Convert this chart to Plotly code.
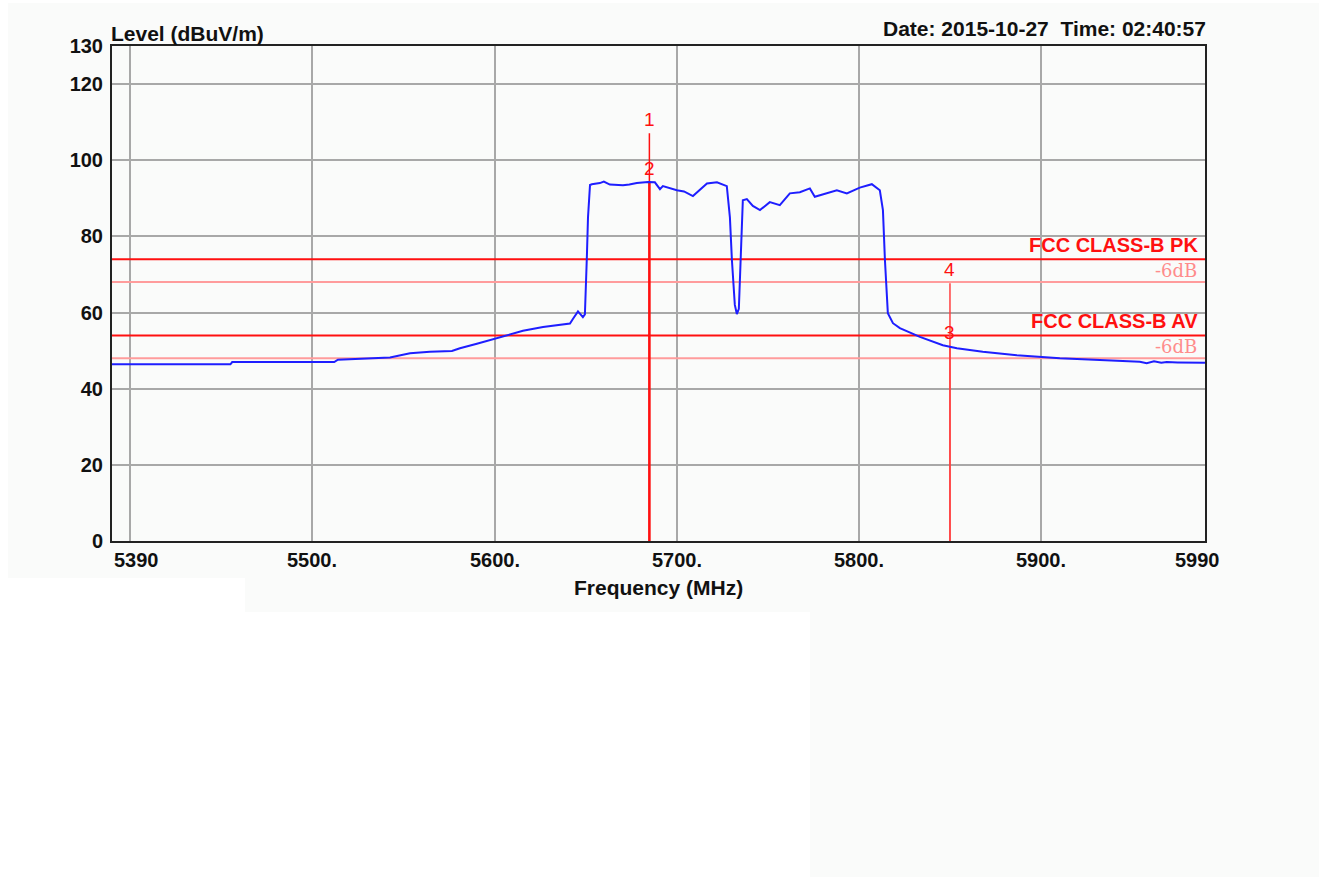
import plotly.graph_objects as go

# ---- measured spectrum (frequency in MHz, level in dBuV/m) ----
freq_mhz = [
    5390, 5420, 5455, 5456, 5490, 5512, 5514, 5531.6, 5542.6, 5553.6, 5564.5,
    5576.6, 5581, 5590.3, 5599.1, 5608.4, 5615.6, 5626.6, 5641.4, 5643, 5645.8,
    5648.5, 5649.6, 5650.7, 5651.3, 5652.4, 5653.4, 5657.8, 5660, 5663.3,
    5670.5, 5674, 5678.1, 5684.2, 5688, 5690.8, 5692.4, 5700.1, 5704,
    5708.9, 5716.6, 5722.1, 5727.5, 5729.2, 5730.3, 5731.9, 5733, 5734.1,
    5735.2, 5736.3, 5738.5, 5741.8, 5745.7, 5751.1, 5756.6, 5762.1, 5767.6,
    5773.1, 5775.8, 5782.4, 5787.9, 5793.4, 5800.5, 5807.1, 5811.5, 5813.2,
    5814.3, 5815.9, 5818.7, 5822.5, 5828, 5833.5, 5846.1, 5853.8, 5868,
    5886.7, 5910.3, 5932.3, 5950, 5954.2, 5958, 5962, 5966, 5969, 5975, 5990,
]
level_dbuv = [
    46.4, 46.4, 46.4, 47.0, 47.0, 47.0, 47.6, 47.9, 48.2, 49.3, 49.7,
    49.9, 50.6, 51.8, 53.0, 54.3, 55.2, 56.2, 57.1, 58.3, 60.3,
    58.8, 59.5, 75.0, 85.0, 93.5, 93.7, 94.0, 94.4, 93.6,
    93.4, 93.6, 94.0, 94.3, 94.2, 92.4, 93.2, 92.1, 91.8,
    90.6, 93.9, 94.2, 93.2, 85.0, 73.8, 62.0, 59.6, 61.0,
    75.0, 89.5, 89.8, 88.0, 86.9, 89.0, 88.2, 91.3, 91.6,
    92.6, 90.4, 91.4, 92.1, 91.3, 92.8, 93.7, 92.1, 86.9,
    73.8, 59.8, 57.2, 55.9, 54.8, 53.6, 51.4, 50.6, 49.7,
    48.8, 48.0, 47.5, 47.2, 47.1, 46.7, 47.2, 46.8, 47.0, 46.9, 46.8,
]

# ---- limit lines ----
limit_names = ["FCC CLASS-B PK", "FCC CLASS-B AV"]
limit_levels = [74, 54]
limit_margin_db = 6

# ---- markers ----
marker_ids = ["1", "2", "3", "4"]
marker_freqs = [5685, 5685, 5850, 5850]
marker_levels = [107.1, 94.4, 51.2, 67.7]

x_tick_vals = [5390, 5500, 5600, 5700, 5800, 5900, 5990]
x_tick_text = ["5390", "5500.", "5600.", "5700.", "5800.", "5900.", "5990"]
x_grid_vals = [5400, 5500, 5600, 5700, 5800, 5900]
y_tick_vals = [0, 20, 40, 60, 80, 100, 120, 130]

X0, X1 = 5390, 5990
FONT = "Liberation Sans, Arial, sans-serif"
RED = "#ff1010"
PINK = "#ff9c9c"

fig = go.Figure()

# limit lines and their -6 dB margin lines
for lvl in limit_levels:
    fig.add_trace(go.Scatter(x=[X0, X1], y=[lvl, lvl], mode="lines",
                             line=dict(color=RED, width=2), hoverinfo="skip"))
    m = lvl - limit_margin_db
    fig.add_trace(go.Scatter(x=[X0, X1], y=[m, m], mode="lines",
                             line=dict(color=PINK, width=2), hoverinfo="skip"))

# marker lines
marker_styles = [(RED, 1.5), (RED, 2.5), ("#ff4040", 1.5), ("#ff4040", 1.5)]
for f, lvl, (col, w) in zip(marker_freqs, marker_levels, marker_styles):
    fig.add_trace(go.Scatter(x=[f, f], y=[0, lvl], mode="lines",
                             line=dict(color=col, width=w), hoverinfo="skip"))

# spectrum trace
fig.add_trace(go.Scatter(x=freq_mhz, y=level_dbuv, mode="lines",
                         line=dict(color="#1e1eff", width=2), hoverinfo="skip"))

# marker labels
for mid, f, lvl in zip(marker_ids, marker_freqs, marker_levels):
    fig.add_annotation(x=f, y=lvl, xref="x", yref="y", text=mid, showarrow=False,
                       yanchor="bottom", yshift=1,
                       font=dict(family=FONT, size=19, color=RED))

# limit labels: name above the line, margin text just below it
for name, lvl in zip(limit_names, limit_levels):
    fig.add_annotation(x=1, y=lvl, xref="paper", yref="y", text=name,
                       showarrow=False, xanchor="right", yanchor="bottom",
                       xshift=-5, yshift=1,
                       font=dict(family=FONT, size=20, color=RED, weight="bold"))
    fig.add_annotation(x=1, y=lvl, xref="paper", yref="y",
                       text=f"-{limit_margin_db}dB",
                       showarrow=False, xanchor="right", yanchor="top",
                       xshift=-6, yshift=1,
                       font=dict(family="DejaVu Serif, serif", size=18,
                                 color="#ff8c8c"))

# x tick labels
for v, t in zip(x_tick_vals, x_tick_text):
    anchor, shift = "center", 0
    if v == X0:
        anchor = "left"
    elif v == X1:
        shift = -8
    fig.add_annotation(x=v, y=0, xref="x", yref="paper", text=t, showarrow=False,
                       xanchor=anchor, yanchor="top", xshift=shift, yshift=-6,
                       font=dict(family=FONT, size=20, color="#111111",
                                 weight="bold"))

# titles
fig.add_annotation(x=0.5, y=0, xref="paper", yref="paper", text="Frequency (MHz)",
                   showarrow=False, xanchor="center", yanchor="top", yshift=-33,
                   font=dict(family=FONT, size=21, color="#111111", weight="bold"))
fig.add_annotation(x=0, y=1, xref="paper", yref="paper", text="Level (dBuV/m)",
                   showarrow=False, xanchor="left", yanchor="bottom", yshift=-1,
                   xshift=-3,
                   font=dict(family=FONT, size=21, color="#111111", weight="bold"))
fig.add_annotation(x=1, y=1, xref="paper", yref="paper",
                   text="Date: 2015-10-27\u00a0\u00a0Time: 02:40:57",
                   showarrow=False, xanchor="right", yanchor="bottom", yshift=4,
                   xshift=3,
                   font=dict(family=FONT, size=21, color="#111111", weight="bold"))

# faint background tint of the chart image
L, R, T, B = 112, 1205, 46, 541
W, H = R - L, B - T


def px(x):
    return (x - L) / W


def py(y):
    return (B - y) / H


tint = "#fafbfa"
for (x0, y0, x1, y1) in [(8, 3, 1319, 578), (245, 578, 810, 612), (810, 578, 1319, 877)]:
    fig.add_shape(type="rect", xref="paper", yref="paper", layer="below",
                  x0=px(x0), x1=px(x1), y0=py(y1), y1=py(y0),
                  line=dict(width=0), fillcolor=tint)

fig.update_xaxes(range=[X0, X1], tickvals=x_grid_vals, showticklabels=False,
                 showgrid=True, gridcolor="#a8a8a8", gridwidth=2, zeroline=False,
                 showline=True, linecolor="#222222", linewidth=2, mirror=True,
                 ticks="")
fig.update_yaxes(range=[0, 130], tickvals=y_tick_vals,
                 ticktext=[str(v) for v in y_tick_vals],
                 showgrid=True, gridcolor="#a8a8a8", gridwidth=2, zeroline=False,
                 showline=True, linecolor="#222222", linewidth=2, mirror=True,
                 ticks="", ticklabelstandoff=3,
                 tickfont=dict(family=FONT, size=20, color="#111111",
                               weight="bold"))

fig.update_layout(
    width=1319, height=877,
    margin=dict(l=L, r=1319 - R, t=T, b=877 - B, pad=0),
    paper_bgcolor="white", plot_bgcolor="rgba(0,0,0,0)",
    showlegend=False,
)

fig.write_html("out.html")
